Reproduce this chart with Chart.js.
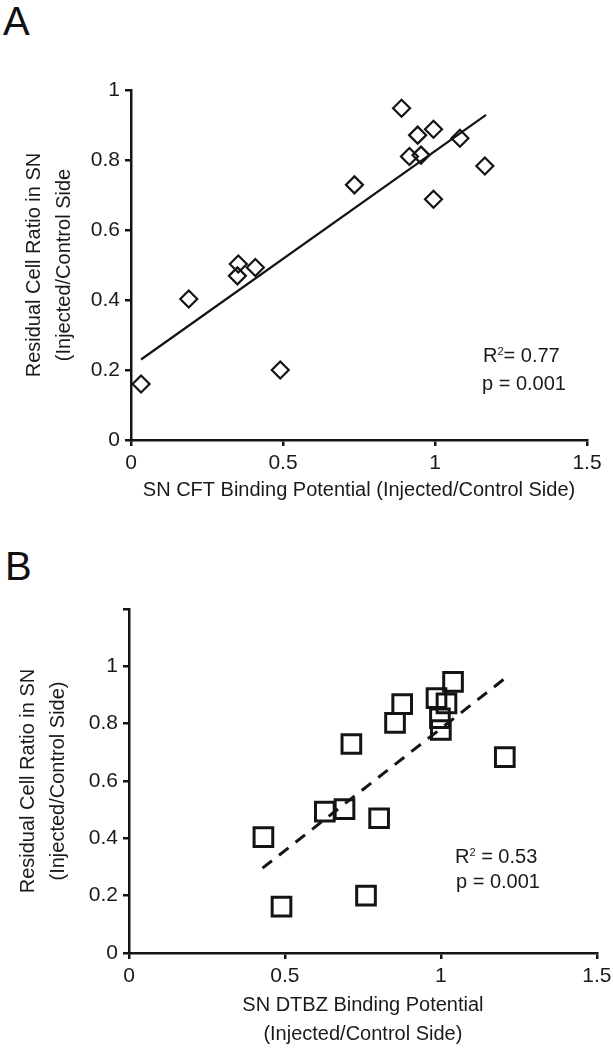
<!DOCTYPE html>
<html><head><meta charset="utf-8">
<script src="https://cdn.jsdelivr.net/npm/chart.js@4"></script>
<style>
html,body{margin:0;padding:0;background:#fff;width:613px;height:1049px;overflow:hidden;}
.lbl{position:absolute;font-family:"Liberation Sans",Arial,sans-serif;font-size:40px;color:#111;line-height:1;}
.note{position:absolute;font-family:"Liberation Sans",Arial,sans-serif;font-size:20px;color:#1a1a1a;line-height:1;white-space:nowrap;}
.note sup{font-size:11px;vertical-align:top;position:relative;top:1px;}
.box{position:absolute;left:0;width:613px;}
</style></head><body>
<div class="lbl" style="left:3px;top:1px">A</div>
<div class="lbl" style="left:5px;top:546px">B</div>
<div class="box" style="top:70px;height:450px"><canvas id="ca"></canvas></div>
<div class="box" style="top:590px;height:459px"><canvas id="cb"></canvas></div>
<div class="note" style="left:483px;top:345px">R<sup>2</sup>= 0.77</div>
<div class="note" style="left:482px;top:373px">p = 0.001</div>
<div class="note" style="left:455px;top:846px">R<sup>2</sup> = 0.53</div>
<div class="note" style="left:456px;top:871px">p = 0.001</div>
<script>
// Panel A: CFT binding potential vs residual cell ratio
const cftX = [0.033, 0.19, 0.353, 0.35, 0.409, 0.491, 0.735, 0.89, 0.995, 0.943, 1.082, 0.916, 0.954, 1.164, 0.995];
const cftY = [0.16, 0.403, 0.503, 0.469, 0.493, 0.20, 0.729, 0.948, 0.888, 0.871, 0.862, 0.81, 0.814, 0.783, 0.688];
const cftFitX = [0.033, 1.168];
const cftFitY = [0.23, 0.929];
// Panel B: DTBZ binding potential vs residual cell ratio
const dtbzX = [0.431, 0.489, 0.760, 0.628, 0.691, 0.713, 0.802, 0.853, 0.876, 0.986, 1.018, 0.997, 1.000, 1.039, 1.205];
const dtbzY = [0.404, 0.162, 0.20, 0.493, 0.502, 0.729, 0.47, 0.803, 0.868, 0.889, 0.871, 0.819, 0.778, 0.946, 0.683];
const dtbzFitX = [0.428, 1.202];
const dtbzFitY = [0.296, 0.955];
const xTicks = [0, 0.5, 1, 1.5];
const yTicksA = [0, 0.2, 0.4, 0.6, 0.8, 1];
const yLabelsA = ['0', '0.2', '0.4', '0.6', '0.8', '1'];
const yTicksB = [0, 0.2, 0.4, 0.6, 0.8, 1, 1.2];
const yLabelsB = ['0', '0.2', '0.4', '0.6', '0.8', '1', ''];

const INK = '#141414';
const FONT = '"Liberation Sans", Arial, sans-serif';
const pts = (xs, ys) => xs.map((x, i) => ({x, y: ys[i]}));

function axisCommon(){
  return {
    grid:{display:true, drawOnChartArea:false, drawTicks:true, tickLength:6, color:INK, lineWidth:2.5},
    border:{display:true, color:INK, width:2.5},
    ticks:{color:'#1a1a1a', font:{family:FONT, size:21}, padding:5, autoSkip:false, maxRotation:0}
  };
}

function makeChart(id, cfg){
  const xa = axisCommon();
  const ya = axisCommon();
  return new Chart(document.getElementById(id), {
    type:'scatter',
    data:{datasets:[
      {data:pts(cfg.px, cfg.py), pointStyle:cfg.style, pointRadius:cfg.r, pointHoverRadius:cfg.r,
       borderColor:INK, backgroundColor:'rgba(0,0,0,0)', pointBorderWidth:cfg.bw, showLine:false},
      {data:pts(cfg.fx, cfg.fy), showLine:true, pointRadius:0, borderColor:INK, borderWidth:cfg.lw,
       borderDash:cfg.dash, fill:false}
    ]},
    options:{
      responsive:true, maintainAspectRatio:false, animation:false,
      layout:{padding:{top:cfg.padTop, right:cfg.padRight, left:0, bottom:0}},
      plugins:{legend:{display:false}, tooltip:{enabled:false}},
      scales:{
        x:Object.assign(xa, {
          type:'linear', min:0, max:1.5,
          afterBuildTicks:s=>{s.ticks = xTicks.map(v=>({value:v}));},
          ticks:Object.assign(xa.ticks, {callback:v=>String(v)}),
          title:{display:true, text:cfg.xTitle, color:'#1a1a1a', font:{family:FONT, size:20, lineHeight:1.45}, padding:{top:0, bottom:cfg.xTitlePad}},
          afterFit:s=>{s.height = cfg.xH; s.paddingLeft = 0; s.paddingRight = 0;}
        }),
        y:Object.assign(ya, {
          type:'linear', min:0, max:cfg.yMax,
          afterBuildTicks:s=>{s.ticks = cfg.yTicks.map(v=>({value:v}));},
          ticks:Object.assign(ya.ticks, {callback:(v,i)=>cfg.yLabels[i]}),
          title:{display:true, text:cfg.yTitle, color:'#1a1a1a', font:{family:FONT, size:20, lineHeight:1.5}, padding:{top:cfg.yTitlePad, bottom:0}},
          afterFit:s=>{s.width = cfg.yW; s.paddingTop = 0; s.paddingBottom = 0;}
        })
      }
    }
  });
}

makeChart('ca', {
  px:cftX, py:cftY, fx:cftFitX, fy:cftFitY, style:'rectRot', r:8.5, bw:2.2, lw:2.2, dash:[],
  padTop:20, padRight:26, xH:80, yW:131, yMax:1, yTicks:yTicksA, yLabels:yLabelsA,
  xTitle:'SN CFT Binding Potential (Injected/Control Side)', xTitlePad:15.5,
  yTitle:['Residual Cell Ratio in SN','(Injected/Control Side'], yTitlePad:19
});
makeChart('cb', {
  px:dtbzX, py:dtbzY, fx:dtbzFitX, fy:dtbzFitY, style:'rect', r:13.2, bw:3, lw:3, dash:[12,9],
  padTop:19, padRight:9, xH:96, yW:129, yMax:1.2, yTicks:yTicksB, yLabels:yLabelsB,
  xTitle:['SN DTBZ Binding Potential','(Injected/Control Side)'], xTitlePad:0,
  yTitle:['Residual Cell Ratio in SN','(Injected/Control Side)'], yTitlePad:13
});
</script>
</body></html>
